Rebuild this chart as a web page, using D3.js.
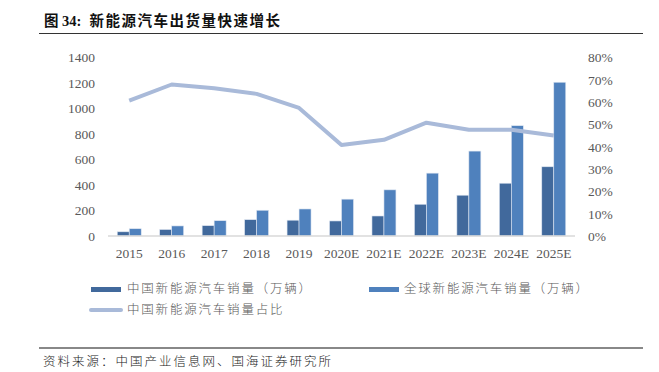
<!DOCTYPE html>
<html><head><meta charset="utf-8">
<script src="https://cdn.jsdelivr.net/npm/d3@7"></script>
<style>
body{margin:0;background:#fff;}
svg{display:block;}
</style></head>
<body>
<script>
const categories = ["2015","2016","2017","2018","2019","2020E","2021E","2022E","2023E","2024E","2025E"];
const chinaSales = [33,51,81,128,124,118,157,249,320,414,543];
const globalSales = [57,79,120,202,212,289,362,493,666,865,1206];
const chinaShare = [0.607,0.679,0.662,0.637,0.574,0.408,0.431,0.508,0.476,0.476,0.450];
const leftTicks = [0,200,400,600,800,1000,1200,1400];
const rightTicks = [0,0.1,0.2,0.3,0.4,0.5,0.6,0.7,0.8];
const seriesNames = ["中国新能源汽车销量（万辆）","全球新能源汽车销量（万辆）","中国新能源汽车销量占比"];
const titleNum = "图 34:";
const titleText = "新能源汽车出货量快速增长";
const sourceText = "资料来源：中国产业信息网、国海证券研究所";

const W = 659, H = 372;
const colDark = "#41699C", colLight = "#4F81BD", colLine = "#A9BAD9";
const tickCol = "#595959";
const svg = d3.select("body").append("svg").attr("width", W).attr("height", H);

// title
const t = svg.append("text").attr("x", 44).attr("y", 26)
  .attr("font-weight", "bold").attr("font-size", 14.5).attr("fill", "#111");
t.append("tspan").attr("font-family", "'Liberation Serif','Noto Sans CJK SC'").text(titleNum);
t.append("tspan").attr("dx", 8).attr("font-family", "'Noto Sans CJK SC'")
  .attr("letter-spacing", 1.5).text(titleText);
svg.append("line").attr("x1", 39).attr("x2", 643).attr("y1", 33.5).attr("y2", 33.5)
  .attr("stroke", "#333").attr("stroke-width", 1);

const x = d3.scaleBand().domain(categories).range([108, 575]).paddingInner(0.435).paddingOuter(0.2175);
const xs = d3.scaleBand().domain([0,1]).range([0, x.bandwidth()]);
const yL = d3.scaleLinear().domain([0, 1400]).range([236, 57.5]);
const yR = d3.scaleLinear().domain([0, 0.8]).range([236, 57.5]);

// bars
const g = svg.append("g");
const series = [chinaSales, globalSales];
const colors = [colDark, colLight];
series.forEach((vals, si) => {
  g.selectAll(".b" + si).data(vals).enter().append("rect")
    .attr("x", (d, i) => x(categories[i]) + xs(si))
    .attr("width", xs.bandwidth())
    .attr("y", d => yL(d))
    .attr("height", d => yL(0) - yL(d))
    .attr("fill", colors[si])
    .attr("stroke", "#dfe7f2").attr("stroke-width", 0.6);
});

// baseline
svg.append("line").attr("x1", 108).attr("x2", 575).attr("y1", 236).attr("y2", 236)
  .attr("stroke", "#D9D9D9").attr("stroke-width", 1.5);

// line
const line = d3.line().x((d, i) => x(categories[i]) + x.bandwidth() / 2).y(d => yR(d));
svg.append("path").datum(chinaShare).attr("d", line)
  .attr("fill", "none").attr("stroke", colLine).attr("stroke-width", 4)
  .attr("stroke-linejoin", "round");

// axes
const fontSerif = "'Liberation Serif', 'Times New Roman', serif";
const axL = d3.axisLeft(yL).tickValues(leftTicks).tickSize(0).tickPadding(0).tickFormat(d3.format("d"));
const gl = svg.append("g").attr("transform", "translate(95,0)").call(axL);
const axR = d3.axisRight(yR).tickValues(rightTicks).tickSize(0).tickPadding(0).tickFormat(d3.format(".0%"));
const gr = svg.append("g").attr("transform", "translate(588,0)").call(axR);
const axB = d3.axisBottom(x).tickSize(0).tickPadding(0);
const gb = svg.append("g").attr("transform", "translate(0,258)").call(axB);
[gl, gr, gb].forEach(a => {
  a.select(".domain").remove();
  a.selectAll("text").attr("font-family", fontSerif).attr("font-size", 13.5).attr("fill", tickCol);
});
gb.selectAll("text").attr("dy", 0);

// legend
const lf = "'Noto Sans CJK SC'";
const leg = svg.append("g").attr("font-family", lf).attr("font-size", 12.5).attr("fill", tickCol)
  .attr("font-weight", 300).attr("letter-spacing", 1.8);
leg.append("rect").attr("x", 91).attr("y", 287).attr("width", 30).attr("height", 5).attr("fill", colDark);
leg.append("text").attr("x", 127).attr("y", 289).attr("dy", "0.35em").text(seriesNames[0]);
leg.append("rect").attr("x", 369).attr("y", 287).attr("width", 30).attr("height", 5).attr("fill", colLight);
leg.append("text").attr("x", 404).attr("y", 289).attr("dy", "0.35em").text(seriesNames[1]);
leg.append("line").attr("x1", 91).attr("x2", 121).attr("y1", 310).attr("y2", 310)
  .attr("stroke", colLine).attr("stroke-width", 4).attr("stroke-linecap", "round");
leg.append("text").attr("x", 127).attr("y", 310).attr("dy", "0.35em").text(seriesNames[2]);

// source
svg.append("line").attr("x1", 39).attr("x2", 643).attr("y1", 348).attr("y2", 348)
  .attr("stroke", "#888").attr("stroke-width", 2);
svg.append("text").attr("x", 43).attr("y", 362).attr("dy", "0.35em")
  .attr("font-family", lf).attr("font-size", 12.5).attr("font-weight", 300)
  .attr("letter-spacing", 2).attr("fill", "#222").text(sourceText);
</script>
</body></html>
